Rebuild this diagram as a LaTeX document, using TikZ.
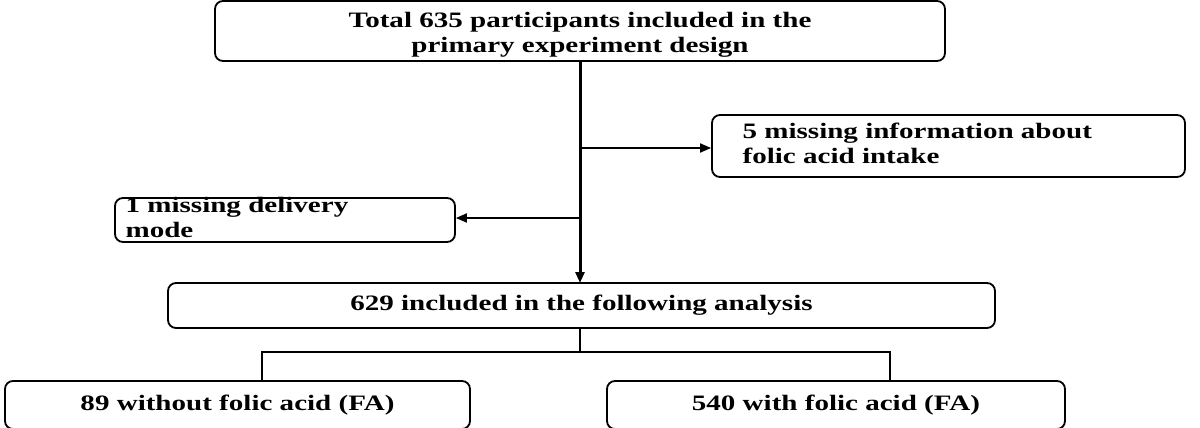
\documentclass[tikz,border=0pt]{standalone}
\usepackage{fontspec}
\setmainfont{Liberation Serif}
\usetikzlibrary{arrows.meta}
\newcommand{\sx}[1]{\scalebox{1.32}[1]{\begin{tabular}{@{}c@{}}#1\end{tabular}}}
\newcommand{\sxl}[1]{\scalebox{1.32}[1]{\begin{tabular}{@{}l@{}}#1\end{tabular}}}
\begin{document}
\begin{tikzpicture}[x=1pt,y=-1pt,
  box/.style={draw,line width=1.8pt,rounded corners=8pt,inner sep=0pt},
  lbl/.style={font=\fontsize{22}{25}\selectfont\bfseries},
  ln/.style={line width=1.8pt},
  arr/.style={ln,-{Triangle[length=11pt,width=9pt]}}]
\useasboundingbox (0,0) rectangle (1200,428);
\node[box,minimum width=730pt,minimum height=60pt] (top) at (580,31) {};
\node[lbl] at ([yshift=-4pt]top.center) {\sx{Total 635 participants included in the\\primary experiment design}};
\node[box,minimum width=473pt,minimum height=62pt] (r) at (948.5,146) {};
\node[lbl,anchor=west] at ([xshift=28pt]r.west) {\sxl{5 missing information about\\folic acid intake}};
\node[box,minimum width=340pt,minimum height=44pt] (l) at (285,220) {};
\node[lbl,anchor=west] at ([xshift=8pt]l.west) {\sxl{1 missing delivery\\mode}};
\node[box,minimum width=827pt,minimum height=45pt] (m) at (581.5,305.5) {};
\node[lbl] at (m) {\sx{629 included in the following analysis}};
\node[box,minimum width=465pt,minimum height=48pt] (bl) at (237.5,405) {};
\node[lbl] at (bl) {\sx{89 without folic acid (FA)}};
\node[box,minimum width=458pt,minimum height=48pt] (br) at (836,405) {};
\node[lbl] at (br) {\sx{540 with folic acid (FA)}};
\coordinate (t0) at (580,61);
\coordinate (t3) at (580,283);
\coordinate (t1) at (580,148);
\coordinate (t2) at (580,218);
\coordinate (s) at (580,352);
\coordinate (sl) at (262,352);
\coordinate (sr) at (890,352);
\draw[arr,line width=3pt] (t0) -- (t3);
\draw[arr] (t1) -- (t1 -| r.west);
\draw[arr] (t2) -- (t2 -| l.east);
\draw[ln,line width=2.5pt] (s |- m.south) -- (s);
\draw[ln,line width=2.5pt] (sl |- bl.north) -- (sl) -- (sr) -- (sr |- br.north);
\end{tikzpicture}
\end{document}
